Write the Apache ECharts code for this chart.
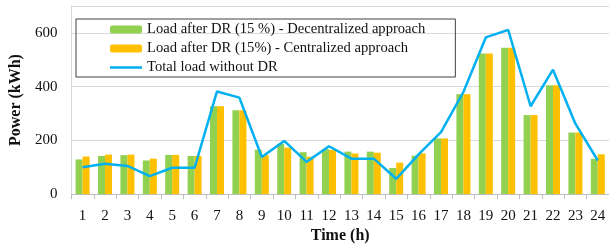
<!DOCTYPE html>
<html>
<head>
<meta charset="utf-8">
<script src="https://cdn.jsdelivr.net/npm/echarts@6/dist/echarts.min.js"></script>
<style>html,body{margin:0;padding:0;background:#fff}#c{width:609px;height:249px}</style>
</head>
<body>
<div id="c"></div>
<script>
var hours = ['1','2','3','4','5','6','7','8','9','10','11','12','13','14','15','16','17','18','19','20','21','22','23','24'];
var decentralized = [129,142,145,125,146,142,327,312,165,187,156,167,158,158,97,143,207,372,523,545,294,405,229,131];
var centralized   = [140,147,147,132,146,142,327,312,145,173,139,164,151,154,117,152,207,372,523,545,294,405,229,148];
var totalLoad     = [100,113,105,67,98,98,382,359,138,198,120,178,132,132,57,148,231,380,583,611,327,463,262,125];
var yTicks = [0,200,400,600];
var seriesNames = ['Load after DR (15 %) - Decentralized approach','Load after DR (15%) - Centralized approach','Total load without DR'];

var font = "'Liberation Serif','Times New Roman',serif";
var lineIcon = 'path://M0,0L0.01,0L0.01,0.01Z M0,2.75H32V5.25H0Z M31.99,8L32,8L32,7.99Z';
var chart = echarts.init(document.getElementById('c'), null, {renderer:'canvas'});
chart.setOption({
  animation:false,
  textStyle:{fontFamily:font},
  grid:{left:67, top:6, width:545, height:191},
  legend:{
    orient:'vertical', left:76, top:19,
    padding:[3,30,2,34],
    borderColor:'#404040', borderWidth:1,
    itemWidth:32, itemHeight:8, itemGap:4,
    textStyle:{fontFamily:font, fontSize:14.6, color:'#111'},
    data:[{name:seriesNames[0]},{name:seriesNames[1]},{name:seriesNames[2], icon:lineIcon}]
  },
  xAxis:{
    type:'category', data:hours,
    name:'Time (h)', nameLocation:'middle', nameGap:30,
    nameTextStyle:{fontFamily:font, fontSize:16, fontWeight:'bold', color:'#111'},
    axisLine:{lineStyle:{color:'#BFBFBF', width:1}},
    axisTick:{show:true, length:5, lineStyle:{color:'#BFBFBF'}},
    axisLabel:{fontFamily:font, fontSize:15, color:'#111', margin:14, interval:0}
  },
  yAxis:{
    type:'value', min:0, max:700, interval:200,
    name:'Power (kWh)', nameLocation:'middle', nameGap:45,
    nameTextStyle:{fontFamily:font, fontSize:16, fontWeight:'bold', color:'#111'},
    axisLine:{show:true, lineStyle:{color:'#D9D9D9', width:1}},
    axisTick:{show:false},
    axisLabel:{fontFamily:font, fontSize:15, color:'#111', margin:14,
      formatter:function(v){return yTicks.indexOf(v)>=0 ? String(v) : '';}},
    splitLine:{lineStyle:{color:'#D9D9D9', width:1}}
  },
  series:[
    {name:seriesNames[0], type:'bar', data:decentralized, barWidth:7, barGap:'0%', itemStyle:{color:'#92D050'}},
    {name:seriesNames[1], type:'bar', data:centralized, barWidth:7, barGap:'0%', itemStyle:{color:'#FFC000'}},
    {name:seriesNames[2], type:'line', data:totalLoad, symbol:'none', z:5, lineStyle:{color:'#00B0F0', width:2.5}, itemStyle:{color:'#00B0F0'}}
  ]
});
</script>
</body>
</html>
